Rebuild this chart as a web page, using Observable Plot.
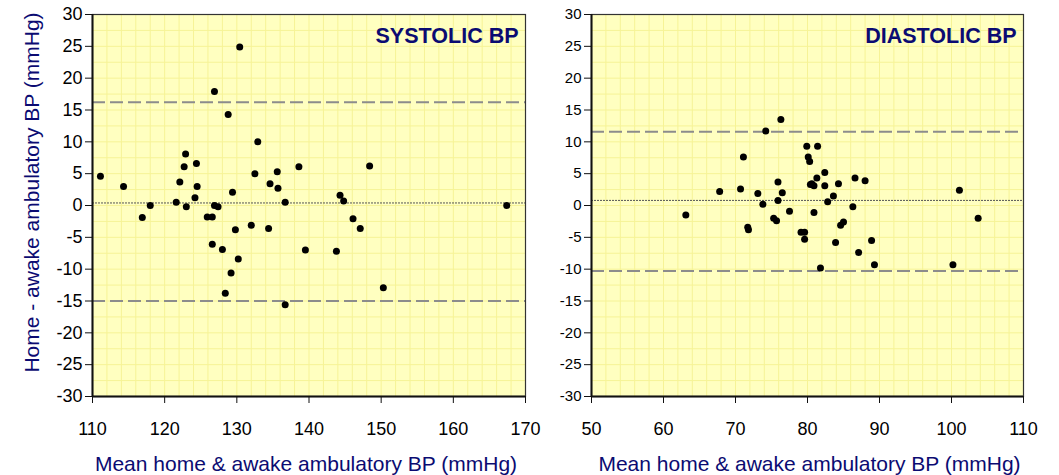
<!DOCTYPE html>
<html>
<head>
<meta charset="utf-8">
<script src="https://cdn.jsdelivr.net/npm/d3@7"></script>
<script src="https://cdn.jsdelivr.net/npm/@observablehq/plot@0.6"></script>
<style>
  html, body { margin: 0; padding: 0; background: #ffffff; }
  #row { display: flex; flex-direction: row; width: 1059px; height: 475px; }
  svg { font-family: "Liberation Sans", Arial, sans-serif; }
</style>
</head>
<body>
<div id="row"></div>
<script>
// ---- Data ----
const sysMean = [111.1, 114.3, 116.9, 118.0, 121.6, 122.1, 122.7, 122.9, 123.0, 124.2,
  124.4, 124.5, 125.9, 126.6, 126.9, 126.9, 127.4, 128.8, 129.4, 130.4,
  132.5, 132.9, 134.6, 135.6, 135.7, 136.7, 138.6, 148.4, 144.3, 144.8,
  146.1, 167.4, 129.8, 132.0, 134.4, 126.6, 128.0, 130.2, 129.2, 128.4,
  136.7, 139.5, 147.1, 143.8, 150.3];
const sysDiff = [4.6, 3.0, -1.9, 0.0, 0.5, 3.7, 6.1, 8.1, -0.2, 1.2,
  6.6, 3.0, -1.8, -1.8, 17.9, 0.0, -0.2, 14.3, 2.1, 24.9,
  5.0, 10.0, 3.4, 5.3, 2.7, 0.5, 6.1, 6.2, 1.6, 0.7,
  -2.1, 0.0, -3.8, -3.1, -3.6, -6.1, -6.9, -8.4, -10.6, -13.8,
  -15.6, -7.0, -3.6, -7.2, -12.9];

const diaMean = [63.1, 67.8, 70.7, 71.1, 71.7, 71.8, 73.1, 73.8, 74.2, 75.3,
  75.7, 75.9, 75.9, 76.3, 76.5, 77.5, 79.1, 79.6, 79.6, 79.9,
  80.1, 80.3, 80.4, 81.4, 82.4, 81.3, 80.6, 80.9, 82.4, 84.3,
  86.6, 88.0, 83.6, 82.8, 86.3, 80.9, 84.6, 85.0, 83.9, 88.9,
  87.1, 89.3, 81.8, 101.1, 103.7, 100.2];
const diaDiff = [-1.5, 2.2, 2.6, 7.6, -3.4, -3.8, 1.9, 0.2, 11.7, -2.0,
  -2.4, 3.7, 0.8, 13.5, 2.0, -0.9, -4.2, -4.2, -5.3, 9.3,
  7.6, 6.9, 3.3, 9.3, 5.2, 4.3, 3.4, 3.1, 3.1, 3.4,
  4.3, 3.9, 1.5, 0.6, -0.2, -1.1, -3.1, -2.6, -5.8, -5.5,
  -7.4, -9.3, -9.8, 2.4, -2.0, -9.3];

// mean difference and limits of agreement [lower, mean, upper]
const sysLimits = [-15.0, 0.4, 16.2];
const diaLimits = [-10.3, 0.8, 11.6];

const yTicks = [-30, -25, -20, -15, -10, -5, 0, 5, 10, 15, 20, 25, 30];
const sysXTicks = [110, 120, 130, 140, 150, 160, 170];
const diaXTicks = [50, 60, 70, 80, 90, 100, 110];

const sysTitle = "SYSTOLIC BP";
const diaTitle = "DIASTOLIC BP";
const xTitle = "Mean home & awake ambulatory BP (mmHg)";
const yTitle = "Home - awake ambulatory BP (mmHg)";

// ---- Styles ----
const BG = "#FFFFC0";
const GRID = "#F6F396";
const NAVY = "#0b0b72";

function panel({mean, diff, limits, xTicks, title, width, marginLeft, marginRight, yLabel, yFont, titleDx, xTitleDx}) {
  const pts = mean.map((m, i) => ({m, d: diff[i]}));
  const x0 = xTicks[0], x1 = xTicks[xTicks.length - 1];
  const marks = [
    Plot.frame({fill: BG, stroke: null}),
    Plot.gridX(d3.range(x0, x1 + 0.01, 2), {stroke: GRID, strokeOpacity: 1, strokeWidth: 1}),
    Plot.gridY(d3.range(-30, 30.01, 2.5), {stroke: GRID, strokeOpacity: 1, strokeWidth: 1}),
    Plot.ruleY([limits[0], limits[2]], {stroke: "#8c8c8c", strokeWidth: 2, strokeDasharray: "13,5"}),
    Plot.ruleY([limits[1]], {stroke: "#555", strokeWidth: 1, strokeDasharray: "2,1"}),
    Plot.dot(pts, {x: "m", y: "d", r: 3.5, fill: "black", stroke: null}),
    Plot.frame({stroke: "#333", strokeWidth: 1.2}),
    Plot.ruleX([x0], {stroke: "#111", strokeWidth: 2}),
    Plot.ruleY([-30], {stroke: "#111", strokeWidth: 2}),
    Plot.axisY(yTicks, {tickSize: 7, tickPadding: 3, fontSize: yFont, label: null, stroke: "#111",
      tickFormat: d => String(d)}),
    Plot.axisX(xTicks, {tickSize: 7, tickPadding: 19, fontSize: 18, label: null, stroke: "#111",
      tickFormat: d => String(d)}),
    Plot.text([title], {frameAnchor: "top-right", dx: titleDx, dy: 13, lineAnchor: "top", textAnchor: "end",
      fontSize: 21.5, fontWeight: "bold", fill: NAVY}),
    Plot.text([xTitle], {frameAnchor: "bottom", dx: xTitleDx, dy: 74, lineAnchor: "bottom", textAnchor: "middle",
      fontSize: 21, fill: NAVY})
  ];
  if (yLabel) {
    marks.push(Plot.text([yTitle], {frameAnchor: "left", dx: -54, dy: -13, rotate: -90, lineAnchor: "bottom",
      textAnchor: "middle", fontSize: 21, fill: NAVY}));
  }
  return Plot.plot({
    width, height: 475,
    marginLeft, marginRight, marginTop: 14, marginBottom: 79,
    style: {fontFamily: "'Liberation Sans', Arial, sans-serif", color: "#000", background: "transparent", overflow: "visible"},
    x: {domain: [x0, x1]},
    y: {domain: [-30, 30]},
    marks
  });
}

const row = document.getElementById("row");
row.appendChild(panel({mean: sysMean, diff: sysDiff, limits: sysLimits, xTicks: sysXTicks, title: sysTitle,
  width: 545, marginLeft: 92, marginRight: 20, yLabel: true, yFont: 18, titleDx: -7, xTitleDx: -3}));
row.appendChild(panel({mean: diaMean, diff: diaDiff, limits: diaLimits, xTicks: diaXTicks, title: diaTitle,
  width: 514, marginLeft: 46, marginRight: 36, yLabel: false, yFont: 15, titleDx: -7, xTitleDx: 2}));
</script>
</body>
</html>
